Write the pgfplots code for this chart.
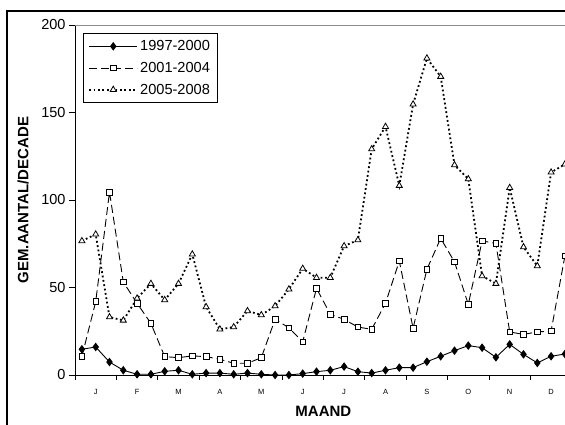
\documentclass[border=0pt]{standalone}
\usepackage{fontspec}
\setmainfont{Liberation Sans}
\usepackage{pgfplots}
\pgfplotsset{compat=1.18}
\definecolor{framegray}{RGB}{140,140,140}

\begin{document}
\begin{tikzpicture}
\useasboundingbox (0,0) rectangle (565pt,425pt);
\clip (0,0) rectangle (565pt,425pt);
% outer frame of the chart (cut off on the right and at the bottom)
\draw[line width=2pt] (6.7pt,-50pt) -- (6.7pt,414.3pt) -- (700pt,414.3pt);
\begin{axis}[
  at={(75pt,50pt)}, anchor=south west,
  scale only axis, width=496.8pt, height=350pt,
  xmin=-0.5, xmax=35.5,
  ymin=0, ymax=200,
  axis x line*=bottom, axis y line*=left,
  axis line style={black, line width=0.9pt},
  tick style={black, line width=0.9pt},
  tick align=outside,
  ytick={0,50,100,150,200},
  major tick length=6pt,
  xtick={1,4,...,34},
  xticklabels={J,F,M,A,M,J,J,A,S,O,N,D},
  minor xtick={-0.5,2.5,...,35.5},
  major x tick style={draw=none},
  minor tick length=5pt,
  xticklabel style={font=\fontsize{7.5}{8}\selectfont, yshift=-5pt},
  yticklabel style={font=\fontsize{14.5}{16}\selectfont},
  /pgf/number format/assume math mode=true,
  xlabel={\textbf{MAAND}},
  ylabel={\textbf{GEM.AANTAL/DECADE}},
  xlabel style={at={(axis description cs:0.5,-0.105)}, anchor=center, font=\fontsize{15}{17}\selectfont},
  ylabel style={at={(axis description cs:-0.1047,0.5)}, anchor=center, font=\fontsize{15}{17}\selectfont},
  legend style={at={(rel axis cs:0.016,0.977)}, anchor=north west,
    draw=black, line width=0.8pt, inner xsep=5pt, inner ysep=5pt,
    font=\fontsize{14.6}{16}\selectfont, row sep=6pt,
    nodes={inner sep=2pt}},
  legend cell align=left,
  legend image code/.code={\draw[mark repeat=2,mark phase=2] plot coordinates {(0pt,0pt) (24pt,0pt) (48pt,0pt)};},
]
\draw[framegray, line width=0.9pt] (rel axis cs:0,1) -- (rel axis cs:1,1);

\addplot[black, line width=0.9pt, mark=diamond*, mark size=3.6pt, mark options={solid, fill=black}]
coordinates {
(0,14.7)(1,16)(2,7.4)(3,2.7)(4,0.4)(5,0.4)(6,2.1)(7,2.7)(8,0.4)(9,1.1)(10,1.1)(11,0.4)
(12,1.1)(13,0.4)(14,0)(15,0)(16,0.8)(17,1.9)(18,2.7)(19,4.8)(20,1.9)(21,1.1)(22,2.7)(23,4.2)
(24,4.2)(25,7.6)(26,10.7)(27,13.9)(28,16.8)(29,15.6)(30,10.1)(31,17.5)(32,11.8)(33,6.9)(34,10.7)(35,12.0)
};
\addlegendentry{1997-2000}

\addplot[black, line width=0.9pt, dash pattern=on 8pt off 4pt, mark=square*, mark size=2.8pt, mark options={solid, fill=white, line width=0.8pt}]
coordinates {
(0,10.5)(1,41.9)(2,104.5)(3,53.1)(4,41)(5,29.5)(6,10.5)(7,9.9)(8,10.9)(9,10.5)(10,9)(11,6.7)
(12,6.7)(13,9.9)(14,31.8)(15,27)(16,19)(17,49.5)(18,34.7)(19,31.8)(20,27.4)(21,26.1)(22,41)(23,65.1)
(24,26.7)(25,60.4)(26,78.1)(27,64.6)(28,40.4)(29,76.6)(30,75.2)(31,24.6)(32,23.2)(33,24.6)(34,25.1)(35,68)
};
\addlegendentry{2001-2004}

\addplot[black, line width=1.8pt, dash pattern=on 1.8pt off 2.6pt, mark=triangle*, mark size=3.5pt, mark options={solid, fill=white, line width=0.8pt}]
coordinates {
(0,76.6)(1,80.4)(2,33.1)(3,31.2)(4,43.8)(5,52.2)(6,42.9)(7,52.2)(8,69)(9,38.9)(10,26.1)(11,27.4)
(12,36.6)(13,34.3)(14,39.4)(15,49)(16,60.8)(17,55.6)(18,55.6)(19,73.7)(20,77.1)(21,129.1)(22,141.9)(23,108.2)
(24,154.7)(25,181)(26,170.5)(27,120)(28,112)(29,56.6)(30,52.2)(31,107)(32,73.1)(33,62.3)(34,115.8)(35,120.4)
};
\addlegendentry{2005-2008}
\end{axis}
\end{tikzpicture}
\end{document}
